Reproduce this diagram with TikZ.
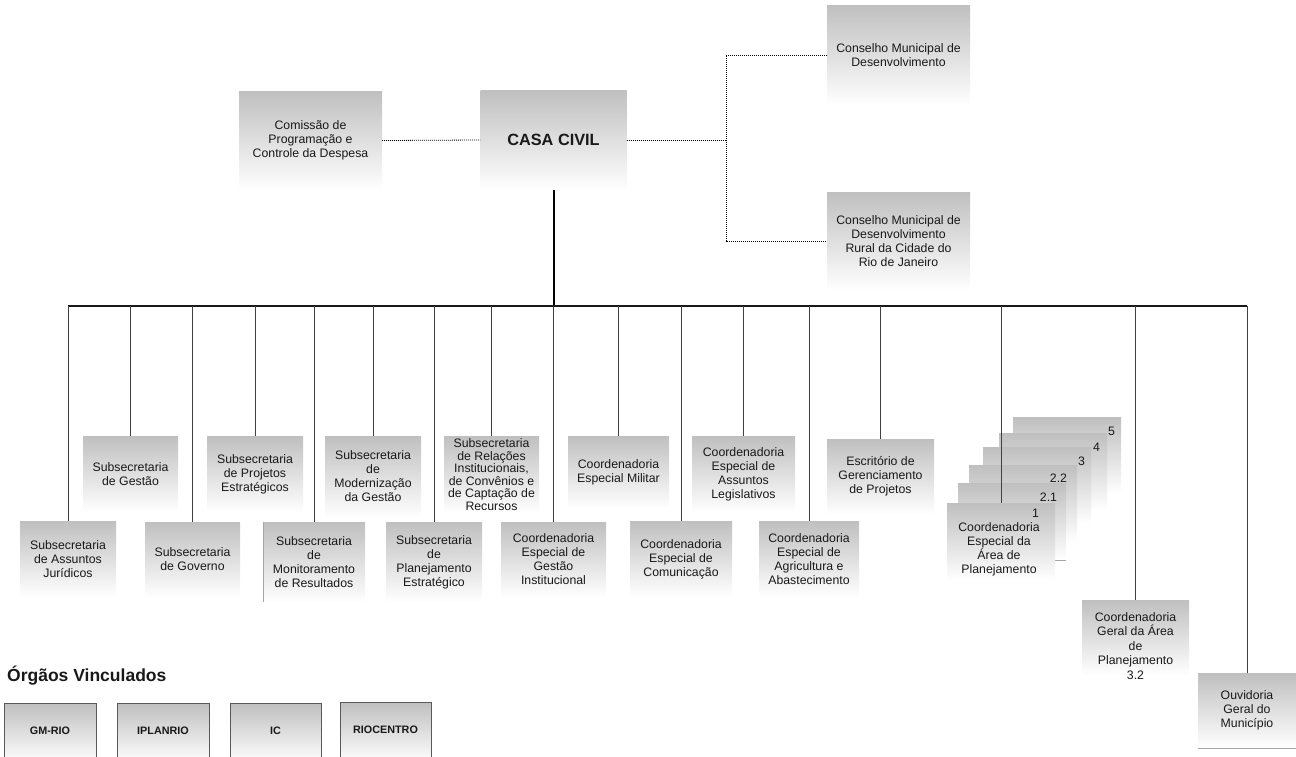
\documentclass[tikz,border=0pt]{standalone}
\usepackage{fontspec}
\setmainfont{Liberation Sans}
\usetikzlibrary{calc}
\begin{document}
\begin{tikzpicture}[x=1pt,y=-1pt,
  box/.style={rectangle, inner sep=0pt, top color=black!25, bottom color=white,
    align=center, font=\fontsize{12.3}{14}\selectfont, text=black!90},
  obox/.style={rectangle, inner sep=0pt, top color=black!25, bottom color=white,
    draw=black!65, line width=0.8pt},
  otext/.style={font=\bfseries\fontsize{10.8}{12}\selectfont, text=black!90},
  txt/.style={align=center, inner sep=0pt, font=\fontsize{12.3}{14}\selectfont, text=black!90},
  trunk/.style={line width=2pt, black},
  busline/.style={line width=1.4pt, black!90},
  drop/.style={line width=0.9pt, black!75},
  dotline/.style={line width=0.8pt, black, dash pattern=on 1pt off 1pt},
  edge/.style={line width=0.6pt, black!35}]
\useasboundingbox (0,0) rectangle (1296,756);

% top level
\node[box, minimum width=143, minimum height=99] (comissao) at (310.5,140.5)
  {Comissão de\\Programação e\\Controle da Despesa};
\node[box, minimum width=146, minimum height=100, font=\bfseries\fontsize{16.3}{18}\selectfont] (casa) at (553.5,140) {CASA CIVIL};
\node[box, minimum width=143, minimum height=100] (cmd) at (898.5,55)
  {Conselho Municipal de\\Desenvolvimento};
\node[box, minimum width=143, minimum height=98] (cmdr) at (898.5,241)
  {Conselho Municipal de\\Desenvolvimento\\Rural da Cidade do\\Rio de Janeiro};

\coordinate (dj) at (726,0);
\coordinate (bus) at (0,306);

\draw[dotline] (comissao.east) -- (casa.west);
\draw[dotline] (casa.east) -- (casa.east -| dj);
\draw[dotline] (cmd.west) -- (cmd.west -| dj) -- (cmdr.west -| dj) -- (cmdr.west);

% subordinate boxes
\node[box, minimum width=96, minimum height=76] (sajur) at (68,559)
  {Subsecretaria\\de Assuntos\\Jurídicos};
\node[box, minimum width=95, minimum height=76] (sgest) at (130.5,474)
  {Subsecretaria\\de Gestão};
\node[box, minimum width=95, minimum height=75] (sgov) at (192.5,559.5)
  {Subsecretaria\\de Governo};
\node[box, minimum width=96, minimum height=76] (sproj) at (255,474)
  {Subsecretaria\\de Projetos\\Estratégicos};
\node[box, minimum width=102, minimum height=80] (smon) at (314,562)
  {Subsecretaria\\de\\Monitoramento\\de Resultados};
\node[box, minimum width=96, minimum height=81] (smod) at (373,476.5)
  {Subsecretaria\\de\\Modernização\\da Gestão};
\node[box, minimum width=96, minimum height=80] (splan) at (434,562)
  {Subsecretaria\\de\\Planejamento\\Estratégico};
\node[box, minimum width=95, minimum height=77, font=\fontsize{12.3}{12.6}\selectfont] (srel) at (491.5,474.5)
  {Subsecretaria\\de Relações\\Institucionais,\\de Convênios e\\de Captação de\\Recursos};
\node[box, minimum width=105, minimum height=75] (cegi) at (553.5,559.5)
  {Coordenadoria\\Especial de\\Gestão\\Institucional};
\node[box, minimum width=101, minimum height=72] (cem) at (618.5,472)
  {Coordenadoria\\Especial Militar};
\node[box, minimum width=102, minimum height=76] (cec) at (681,559)
  {Coordenadoria\\Especial de\\Comunicação};
\node[box, minimum width=103, minimum height=76] (cal) at (743.5,474)
  {Coordenadoria\\Especial de\\Assuntos\\Legislativos};
\node[box, minimum width=100, minimum height=76] (caa) at (809,559)
  {Coordenadoria\\Especial de\\Agricultura e\\Abastecimento};
\node[box, minimum width=107, minimum height=75] (egp) at (880.5,476.5)
  {Escritório de\\Gerenciamento\\de Projetos};

% stacked planning-area boxes
\tikzset{stackbox/.style={box, minimum width=108, minimum height=77}}
\node[stackbox] (s5) at (1067,455.5) {};
\node[txt, anchor=east] (l5) at ($(s5.north east)+(-6,15)$) {5};
\node[stackbox] (s4) at (1053,471.5) {};
\node[txt, anchor=east] (l4) at ($(s4.north east)+(-7,14)$) {4};
\node[stackbox] (s3) at (1037,485.5) {};
\node[txt, anchor=east] (l3) at ($(s3.north east)+(-6,14)$) {3};
\node[stackbox] (s22) at (1023,503.5) {};
\node[txt, anchor=east] (l22) at ($(s22.north east)+(-10,13)$) {2.2};
\node[stackbox] (s21) at (1012,521.5) {};
\node[txt, anchor=east] (l21) at ($(s21.north east)+(-9,14)$) {2.1};
\draw[edge] (s21.south west) -- (s21.south east);
\node[stackbox] (s1) at (1001,541.5) {};
\node[txt, anchor=east] (l1) at ($(s1.north east)+(-16,10)$) {1};
\node[txt] (s1t) at (999,549.5) {Coordenadoria\\Especial da\\Área de\\Planejamento};

\node[box, minimum width=107, minimum height=75] (cgap) at (1135.5,637.5) {};
\node[txt, font=\fontsize{12.3}{14.5}\selectfont] (cgapt) at (1135.5,646)
  {Coordenadoria\\Geral da Área\\de\\Planejamento\\3.2};
\node[box, minimum width=98, minimum height=75] (ouv) at (1247,710.5)
  {Ouvidoria\\Geral do\\Município};
\draw[edge] (ouv.south west) -- (ouv.south east);
\draw[edge] (smon.north west) -- (smon.south west);

% connectors
\draw[trunk] (casa.south) -- (casa.south |- bus);
\draw[busline] (sajur.north |- bus) -- (ouv.north |- bus);
\foreach \n in {sajur,sgest,sgov,sproj,smon,smod,splan,srel,cegi,cem,cec,cal,caa,egp,s1,cgap,ouv}
  \draw[drop] (\n.north |- bus) -- (\n.north);

% linked bodies
\node[anchor=west, inner sep=0pt, font=\bfseries\fontsize{17.5}{19}\selectfont, text=black!90] (orgt) at (7,676) {Órgãos Vinculados};
\node[obox, minimum width=92, minimum height=60] (gm) at (50,733) {};
\node[otext] (gmt) at (50,731) {GM-RIO};
\node[obox, minimum width=92, minimum height=60] (ipl) at (163,733) {};
\node[otext] (iplt) at (163,731) {IPLANRIO};
\node[obox, minimum width=91, minimum height=60] (ic) at (275.5,733) {};
\node[otext] (ict) at (275.5,731) {IC};
\node[obox, minimum width=91, minimum height=61] (rio) at (385.5,732.5) {};
\node[otext] (riot) at (385.5,730) {RIOCENTRO};
\end{tikzpicture}
\end{document}
